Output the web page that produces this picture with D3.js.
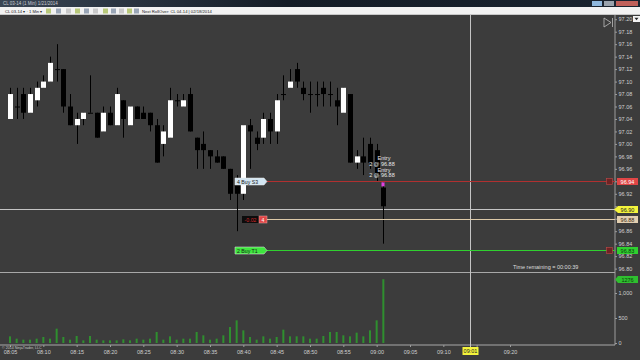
<!DOCTYPE html>
<html>
<head>
<meta charset="utf-8">
<script src="https://cdn.jsdelivr.net/npm/d3@7"></script>
<style>
  body { margin: 0; background: #3c3c3c; overflow: hidden; }
  text { font-family: "Liberation Sans", Arial, sans-serif; }
</style>
</head>
<body>
<svg id="chart" width="640" height="360"></svg>
<script>
// 1 min bars, CL 03-14
const startTime = "08:05";
const opens  = [97.04,97.06,97.08,97.05,97.07,97.09,97.10,97.12,97.12,97.06,97.03,97.04,97.05,97.05,97.02,97.05,97.03,97.07,97.03,97.06,97.05,97.05,97.03,97.00,97.01,97.07,97.06,97.08,97.01,97.00,96.99,96.98,96.98,96.96,96.94,96.92,97.03,97.01,97.01,97.04,97.02,97.08,97.09,97.12,97.09,97.08,97.08,97.09,97.08,97.07,97.05,97.08,96.97,96.98,97.00,96.99,96.93];
const highs  = [97.09,97.09,97.09,97.09,97.10,97.11,97.14,97.16,97.12,97.08,97.05,97.05,97.11,97.05,97.06,97.06,97.09,97.07,97.06,97.06,97.06,97.05,97.04,97.03,97.09,97.08,97.08,97.09,97.01,97.02,96.99,96.99,96.98,96.96,96.95,97.03,97.04,97.02,97.05,97.05,97.08,97.11,97.12,97.13,97.10,97.10,97.10,97.10,97.10,97.09,97.09,97.08,96.99,97.01,97.01,97.00,96.94];
const lows   = [97.04,97.04,97.04,97.05,97.06,97.09,97.10,97.10,97.05,97.03,97.00,97.03,97.05,97.01,97.02,97.03,97.03,97.01,97.03,97.04,97.04,97.02,96.97,96.98,97.01,97.06,97.06,97.02,96.96,96.96,96.96,96.97,96.96,96.91,96.86,96.91,96.96,96.99,97.00,97.00,97.00,97.07,97.09,97.09,97.07,97.05,97.06,97.06,97.06,97.03,97.05,96.97,96.96,96.95,96.96,96.94,96.84];
const closes = [97.08,97.06,97.05,97.08,97.09,97.10,97.13,97.12,97.06,97.03,97.04,97.05,97.05,97.01,97.05,97.03,97.08,97.04,97.06,97.04,97.04,97.03,96.97,97.02,97.07,97.07,97.07,97.02,96.99,96.99,96.98,96.97,96.96,96.92,96.92,97.03,97.02,97.00,97.04,97.02,97.07,97.08,97.10,97.10,97.08,97.08,97.08,97.08,97.08,97.06,97.09,96.97,96.98,96.97,96.97,96.95,96.90];
const volumes = [133,87,67,67,87,120,87,287,120,67,140,53,140,67,53,53,53,73,53,87,67,87,220,67,133,67,87,87,220,153,67,87,153,320,453,253,120,67,133,87,120,267,133,133,133,87,87,140,220,220,153,133,207,133,253,453,1276];

const priceTicks = [97.20,97.18,97.16,97.14,97.12,97.10,97.08,97.06,97.04,97.02,97.00,96.98,96.96,96.94,96.92,96.90,96.88,96.86,96.84,96.82,96.80];
const volumeTicks = [0, 500, 1000];

// orders on the chart: label, price, colours
const orderNames  = ["4  Buy S3", "2  Buy T1"];
const orderPrices = [96.94, 96.83];
const orderLine   = ["#b03030", "#2fd02f"];
const orderBox    = ["#d4e6f2", "#3ee63e"];
const orderTag    = ["#e04646", "#2fd02f"];

const positionPrice = 96.88;
const positionQty = "4";
const positionPnl = "-0.02";
const entryLabels = ["Entry", "2 @ 96.88", "Entry", "2 @ 96.88"];

const crossTime = "09:14";
const crossPrice = 96.895;
const crossPriceLabel = "96.90";
const crossTimeLabel = "09:01";

const parse = d3.timeParse("%H:%M");
const t0 = parse(startTime);
const bars = opens.map((o, i) => ({
  time: d3.timeMinute.offset(t0, i),
  open: o, high: highs[i], low: lows[i], close: closes[i], volume: volumes[i]
}));

const svg = d3.select("#chart");
const W = 640, H = 360;
const axisX = 615;

const x = d3.scaleTime().domain([parse("08:05"), parse("09:20")]).range([10, 510]);
const y = d3.scaleLinear().domain([96.80, 97.18]).range([268.6, 31.7]);
const yv = d3.scaleLinear().domain([0, 1000]).range([343, 293]);

// tick labels hidden under the price / time tags
const tfmt = d3.timeFormat("%H:%M");
const taggedPrices = orderPrices.concat([positionPrice, 96.90]).map(p => p.toFixed(2));
const hiddenTime = tfmt(d3.timeMinute.every(5).round(parse(crossTime)));

// background
svg.append("rect").attr("width", W).attr("height", H).attr("fill", "#3c3c3c");

// title bar
const grad = svg.append("defs").append("linearGradient").attr("id", "tb");
grad.append("stop").attr("offset", "0%").attr("stop-color", "#3a4654");
grad.append("stop").attr("offset", "45%").attr("stop-color", "#141c26");
grad.append("stop").attr("offset", "100%").attr("stop-color", "#1a2430");
svg.append("rect").attr("width", W).attr("height", 7).attr("fill", "url(#tb)");
svg.append("text").attr("x", 3).attr("y", 5.3).attr("font-size", 4.5).attr("fill", "#c8ccd2")
  .text("CL 03-14 (1 Min)  1/21/2014");
svg.append("rect").attr("x", 592).attr("y", 1).attr("width", 10).attr("height", 5).attr("fill", "#8fb8de");
svg.append("rect").attr("x", 604).attr("y", 1).attr("width", 10).attr("height", 5).attr("fill", "#9aa3ad");
svg.append("rect").attr("x", 616).attr("y", 1).attr("width", 22).attr("height", 5).attr("fill", "#c0605a");

// toolbar
svg.append("rect").attr("y", 7).attr("width", W).attr("height", 8).attr("fill", "#f2f2f2");
svg.append("line").attr("x1", 0).attr("x2", W).attr("y1", 14.5).attr("y2", 14.5).attr("stroke", "#c8c8c8");
const tb = svg.append("g").attr("font-size", 4.2).attr("fill", "#222");
tb.append("text").attr("x", 5).attr("y", 12.6).text("CL 03-14 ▾  ·  1 Min ▾");
[46, 56, 66, 75, 84, 93, 103, 111, 119, 127, 134].forEach((ix, k) => {
  tb.append("rect").attr("x", ix).attr("y", 8.5).attr("width", 5).attr("height", 5)
    .attr("fill", k % 3 === 0 ? "#b8c87a" : (k % 3 === 1 ? "#9aa6b6" : "#c9c9c9"));
});
tb.append("text").attr("x", 142).attr("y", 12.6).text("Next RollOver:  CL 04-14 | 02/18/2014");

// axis lines and panel separators
svg.append("line").attr("x1", axisX).attr("x2", axisX).attr("y1", 15).attr("y2", 345)
  .attr("stroke", "#9c9c9c");
svg.append("line").attr("x1", 0).attr("x2", axisX).attr("y1", 272.5).attr("y2", 272.5)
  .attr("stroke", "#a8a8a8");
svg.append("line").attr("x1", 0).attr("x2", axisX).attr("y1", 345).attr("y2", 345)
  .attr("stroke", "#a8a8a8");

// price axis
const pAxis = svg.append("g").attr("transform", `translate(${axisX},0)`)
  .call(d3.axisRight(y).tickValues(priceTicks).tickSize(2).tickPadding(1.5)
    .tickFormat(d => taggedPrices.includes(d.toFixed(2)) ? "" : d.toFixed(2)));
pAxis.select(".domain").remove();
pAxis.selectAll("line").attr("stroke", "#9c9c9c");
pAxis.selectAll("text").attr("font-size", 5.5).attr("fill", "#cfcfcf");

// volume axis
const vAxis = svg.append("g").attr("transform", `translate(${axisX},0)`)
  .call(d3.axisRight(yv).tickValues(volumeTicks).tickSize(2).tickPadding(1.5));
vAxis.select(".domain").remove();
vAxis.selectAll("line").attr("stroke", "#9c9c9c");
vAxis.selectAll("text").attr("font-size", 5.5).attr("fill", "#cfcfcf");

// time axis
const tAxis = svg.append("g").attr("transform", "translate(0,345)")
  .call(d3.axisBottom(x).ticks(d3.timeMinute.every(5)).tickSize(2)
    .tickFormat(d => tfmt(d) === hiddenTime ? "" : tfmt(d)));
tAxis.select(".domain").remove();
tAxis.selectAll("line").attr("stroke", "#9c9c9c");
tAxis.selectAll("text").attr("font-size", 5.5).attr("fill", "#cfcfcf").attr("y", 5).attr("dy", "0.71em");

svg.append("text").attr("x", 2).attr("y", 349).attr("font-size", 3.6).attr("fill", "#c8c8c8")
  .text("© 2014 NinjaTrader, LLC");

// crosshair
const cx = Math.round(x(parse(crossTime))) + 0.5;
const cy = Math.round(y(crossPrice)) + 0.5;
svg.append("line").attr("x1", cx).attr("x2", cx).attr("y1", 15).attr("y2", 350).attr("stroke", "#c4c4c4");
svg.append("line").attr("x1", 0).attr("x2", axisX).attr("y1", cy).attr("y2", cy).attr("stroke", "#c4c4c4");

// volume bars
svg.append("g").selectAll("rect").data(bars).join("rect")
  .attr("x", d => x(d.time) - 1)
  .attr("y", d => yv(d.volume))
  .attr("width", 2)
  .attr("height", d => yv(0) - yv(d.volume))
  .attr("fill", "#2f8f2f");

// candles
const candle = svg.append("g").selectAll("g").data(bars).join("g");
candle.append("line")
  .attr("x1", d => Math.round(x(d.time)) + 0.5).attr("x2", d => Math.round(x(d.time)) + 0.5)
  .attr("y1", d => y(d.high)).attr("y2", d => y(d.low))
  .attr("stroke", "#000");
candle.append("rect")
  .attr("x", d => Math.round(x(d.time)) - 2)
  .attr("y", d => y(Math.max(d.open, d.close)))
  .attr("width", 5)
  .attr("height", d => Math.max(1, Math.abs(y(d.open) - y(d.close))))
  .attr("fill", d => d.close > d.open ? "#ffffff" : "#000000");

// order lines
const orderLeft = 266;
orderPrices.forEach((p, k) => {
  const oy = Math.round(y(p)) + 0.5;
  svg.append("line").attr("x1", orderLeft).attr("x2", axisX).attr("y1", oy).attr("y2", oy)
    .attr("stroke", orderLine[k]);
  svg.append("path")
    .attr("d", `M${orderLeft - 31},${oy - 3.5}H${orderLeft - 2}L${orderLeft + 1},${oy}L${orderLeft - 2},${oy + 3.5}H${orderLeft - 31}Z`)
    .attr("fill", orderBox[k]).attr("stroke", "#e8e8e8").attr("stroke-width", 0.5);
  svg.append("text").attr("x", orderLeft - 29).attr("y", oy + 2).attr("font-size", 5.2).attr("fill", "#1a1a1a")
    .text(orderNames[k]);
  svg.append("rect").attr("x", 606.5).attr("y", oy - 3).attr("width", 6).attr("height", 6)
    .attr("fill", "#6e2424").attr("stroke", "#c04848").attr("stroke-width", 0.6);
  svg.append("rect").attr("x", 617).attr("y", oy - 3.5).attr("width", 21).attr("height", 7)
    .attr("fill", orderTag[k]);
  svg.append("text").attr("x", 627.5).attr("y", oy + 2).attr("text-anchor", "middle")
    .attr("font-size", 5.5).attr("fill", k === 0 ? "#ffffff" : "#0c3a0c").text(p.toFixed(2));
});

// position line
const py = Math.round(y(positionPrice)) + 0.5;
svg.append("line").attr("x1", orderLeft).attr("x2", axisX).attr("y1", py).attr("y2", py).attr("stroke", "#dcc9a8");
svg.append("rect").attr("x", 242).attr("y", py - 3.5).attr("width", 17).attr("height", 7).attr("fill", "#0c0c0c");
svg.append("text").attr("x", 250.5).attr("y", py + 2).attr("text-anchor", "middle").attr("font-size", 5.2)
  .attr("fill", "#d02828").text(positionPnl);
svg.append("rect").attr("x", 259).attr("y", py - 3.5).attr("width", 8).attr("height", 7).attr("fill", "#e04646")
  .attr("stroke", "#f0a0a0").attr("stroke-width", 0.5);
svg.append("text").attr("x", 263).attr("y", py + 2).attr("text-anchor", "middle").attr("font-size", 5.2)
  .attr("fill", "#ffffff").text(positionQty);
svg.append("rect").attr("x", 617).attr("y", py - 3.5).attr("width", 21).attr("height", 7).attr("fill", "#e2cfb0");
svg.append("text").attr("x", 627.5).attr("y", py + 2).attr("text-anchor", "middle").attr("font-size", 5.5)
  .attr("fill", "#3a2a14").text(positionPrice.toFixed(2));

// entry marker and texts
const last = bars[bars.length - 1];
const lx = Math.round(x(last.time));
svg.append("rect").attr("x", lx - 1.5).attr("y", y(96.94) + 1).attr("width", 3).attr("height", 4).attr("fill", "#e040e0");
entryLabels.forEach((t, k) => {
  svg.append("text").attr("x", lx + (k % 2 === 0 ? 1 : -1)).attr("y", 160 + k * 5.8)
    .attr("text-anchor", "middle").attr("font-size", 5.5).attr("fill", "#e8e8e8").text(t);
});

// crosshair labels
svg.append("path").attr("d", `M${axisX - 1},${cy}L${axisX + 3},${cy - 3.5}H638V${cy + 3.5}H${axisX + 3}Z`)
  .attr("fill", "#f4f43c");
svg.append("text").attr("x", 627.5).attr("y", cy + 2).attr("text-anchor", "middle").attr("font-size", 5.5)
  .attr("fill", "#222").text(crossPriceLabel);
svg.append("rect").attr("x", cx - 8).attr("y", 347).attr("width", 16).attr("height", 8).attr("fill", "#f4f43c");
svg.append("text").attr("x", cx).attr("y", 353).attr("text-anchor", "middle").attr("font-size", 5.5)
  .attr("fill", "#222").text(crossTimeLabel);

// last volume tag
const vy = Math.round(yv(last.volume)) + 0.5;
svg.append("path").attr("d", `M${axisX},${vy}L${axisX + 3},${vy - 3.5}H638V${vy + 3.5}H${axisX + 3}Z`)
  .attr("fill", "#2fbf2f");
svg.append("text").attr("x", 627.5).attr("y", vy + 2).attr("text-anchor", "middle").attr("font-size", 5.5)
  .attr("fill", "#0c3a0c").text(last.volume);

// time remaining
svg.append("text").attr("x", 513).attr("y", 269).attr("font-size", 5.5).attr("fill", "#dcdcdc")
  .text("Time remaining = 00:00:39");

// top right buttons
svg.append("path").attr("d", "M604,18L611,22.5L604,27Z M612.5,18V27").attr("fill", "none")
  .attr("stroke", "#bdbdbd").attr("stroke-width", 0.8);
svg.append("rect").attr("x", 633).attr("y", 16).attr("width", 7).attr("height", 6).attr("fill", "#f4f4f4");
svg.append("path").attr("d", "M634.5,17.8H638.5L636.5,20.3Z").attr("fill", "#222");
</script>
</body>
</html>
